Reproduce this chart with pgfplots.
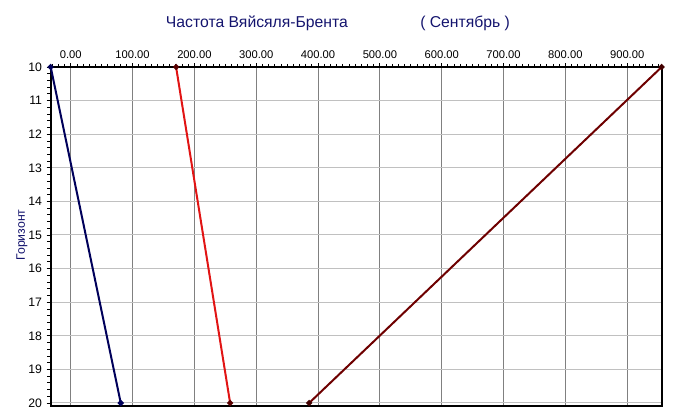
\documentclass[border=0pt]{standalone}
\usepackage{fontspec}
\setmainfont{Liberation Sans}
\usepackage{pgfplots}
\pgfplotsset{compat=1.18}

\definecolor{gridV}{RGB}{128,128,128}
\definecolor{gridH}{RGB}{192,192,192}
\definecolor{titleblue}{RGB}{20,20,110}
\definecolor{lineblue}{RGB}{0,0,90}
\definecolor{linered}{RGB}{225,20,20}
\definecolor{linedarkred}{RGB}{110,0,0}

\begin{document}
\begin{tikzpicture}[x=0.75pt,y=0.75pt]
% page frame (1 unit = one screen pixel)
\useasboundingbox (-50.7,-13) rectangle (624.3,406);
\begin{axis}[
  at={(0,0)}, anchor=south west,
  scale only axis,
  width=458.25pt, height=254.25pt,
  xmin=-32.4, xmax=955.8,
  ymin=10, ymax=20.09,
  y dir=reverse,
  xtick={0,100,...,900},
  minor xtick={-30,-20,...,950},
  ytick={10,11,...,20},
  minor ytick={10,10.2,...,20.01},
  xtick pos=right, xticklabel pos=right,
  ytick pos=left, yticklabel pos=left,
  tick align=outside,
  major tick length=3pt,
  minor tick length=2.4pt,
  every tick/.style={black, line width=0.6pt},
  axis line style={black, line width=1.3pt},
  xmajorgrids, ymajorgrids,
  x grid style={gridV, line width=0.75pt},
  y grid style={gridH, line width=0.75pt},
  tick label style={black},
  xticklabel style={font=\fontsize{8.4}{10}\selectfont,
    /pgf/number format/.cd, fixed, fixed zerofill, precision=2, assume math mode=true},
  yticklabel style={font=\fontsize{9.2}{11}\selectfont,
    /pgf/number format/assume math mode=true},
  clip=false,
]
\addplot[lineblue, line width=1.5pt, mark=*, mark size=1.4pt,
  mark options={fill=lineblue, draw=lineblue}]
  coordinates {(-32.4,10) (80.9,20)};
\addplot[linered, line width=1.5pt, mark=*, mark size=1.4pt,
  mark options={fill=linedarkred!80!black, draw=linedarkred!80!black}]
  coordinates {(170.4,10) (257.8,20)};
\addplot[linedarkred, line width=1.5pt, mark=*, mark size=1.4pt,
  mark options={fill=linedarkred!60!black, draw=linedarkred!60!black}]
  coordinates {(385.6,20) (955.8,10)};
\end{axis}
% heading and axis caption
\node[anchor=west, text=titleblue, font=\fontsize{11.8}{14}\selectfont, inner sep=0pt]
  at (115,383) {Частота Вяйсяля-Брента};
\node[anchor=west, text=titleblue, font=\fontsize{11.8}{14}\selectfont, inner sep=0pt]
  at (369.3,383) {( Сентябрь )};
\node[rotate=90, text=titleblue, font=\fontsize{9.2}{11}\selectfont, inner sep=0pt]
  at (-28.7,171) {Горизонт};
\end{tikzpicture}
\end{document}
